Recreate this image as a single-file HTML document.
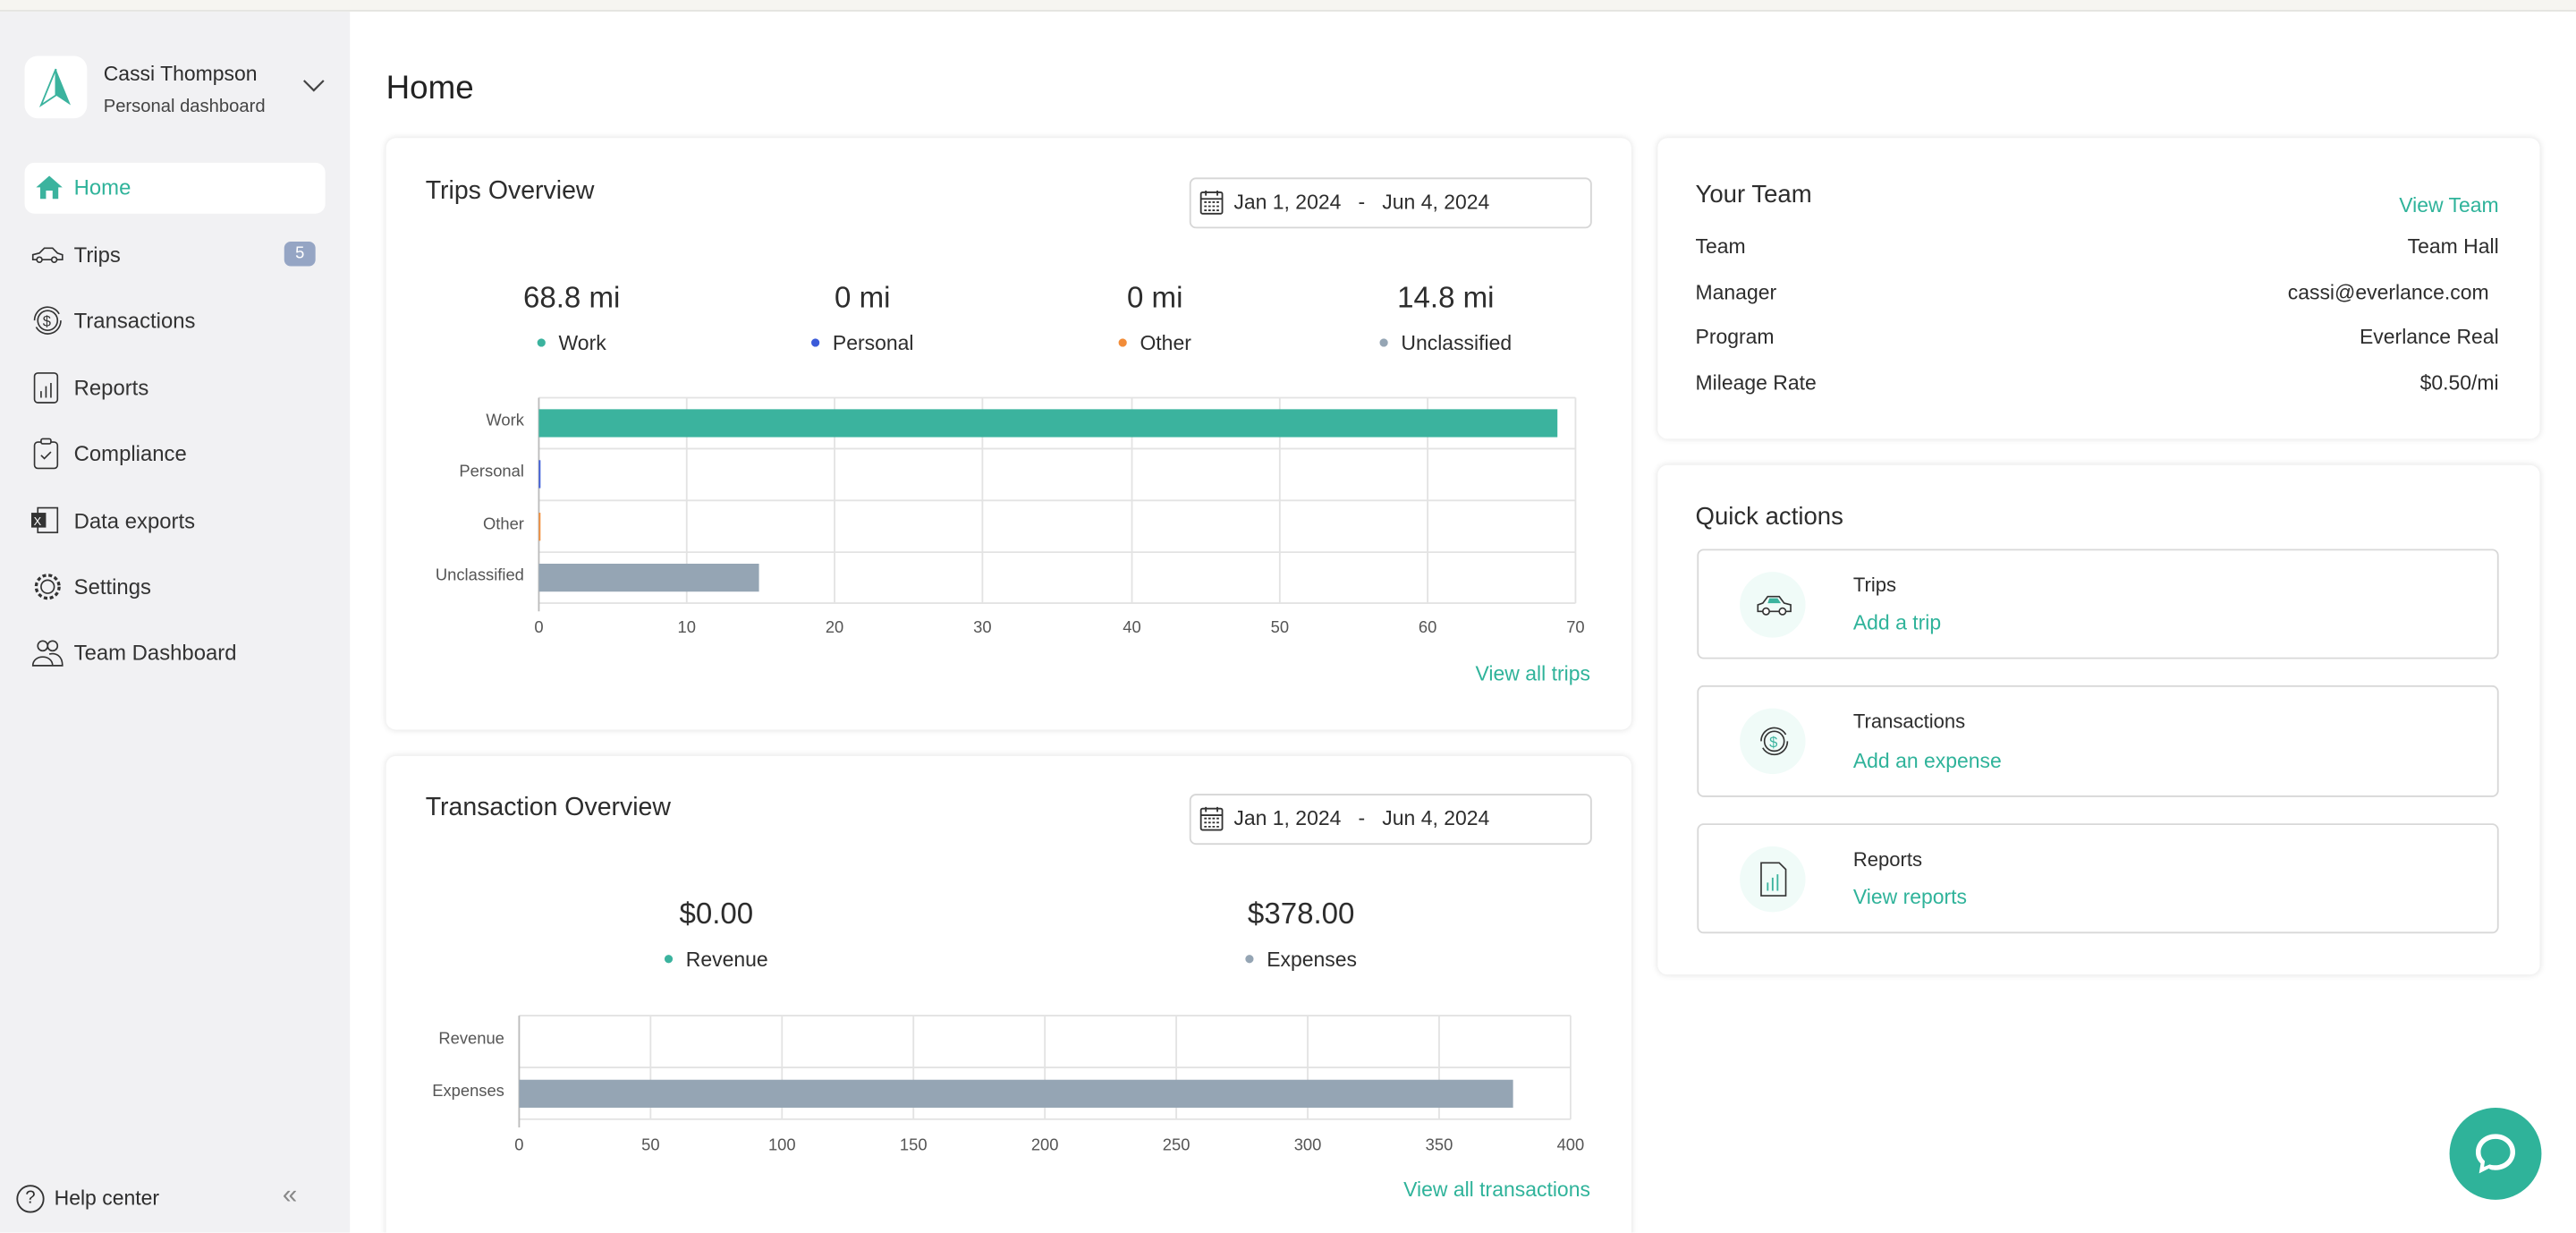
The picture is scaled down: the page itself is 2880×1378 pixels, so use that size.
<!DOCTYPE html>
<html><head><meta charset="utf-8"><style>
*{box-sizing:border-box;margin:0;padding:0}
html,body{width:2880px;height:1378px;overflow:hidden;background:#fff}
#w{position:absolute;left:0;top:0;width:1568px;height:750.3px;transform:scale(1.836735);transform-origin:0 0;font-family:"Liberation Sans",sans-serif;color:#2d2d2d;background:#fff;overflow:hidden}
.a{position:absolute;white-space:nowrap}
.side{position:absolute;left:0;top:7px;width:213px;height:744px;background:#f1f1f3}
.nav{position:absolute;left:45px;font-size:13px;color:#333;transform:translateY(-50%)}
.ic{position:absolute;left:19px;transform:translateY(-50%)}
.card{position:absolute;background:#fff;border-radius:6px;box-shadow:0 0 4px rgba(0,0,0,.12)}
.date{position:absolute;border:1px solid #d6d6d6;border-radius:4px;background:#fff;font-size:12.5px;color:#333}
.teal{color:#2fb39a}
.dot{display:inline-block;width:5px;height:5px;border-radius:50%;margin-right:8px;vertical-align:2px}
.lbl{font-size:10px;color:#555;text-align:right}
.tk{font-size:10px;color:#555;transform:translateX(-50%)}
.qa{position:absolute;left:1033px;width:488px;height:67px;border:1px solid #d8d8d8;border-radius:4px}
.circ{position:absolute;left:25px;top:13px;width:40px;height:40px;border-radius:50%;background:#f0fbf8}
</style></head><body><div id="w">
<div class="a" style="left:0;top:0;width:1568px;height:7px;background:#f6f5f1;border-bottom:1px solid #e4e3df"></div>
<div class="side"></div>
<div class="a" style="left:15px;top:34px;width:38px;height:38px;background:#fff;border-radius:8px"></div>
<svg class="a" style="left:22px;top:40px" width="24" height="26"><polygon points="12,2 3,24 12,18" fill="none" stroke="#3bb39e" stroke-width="1"/><polygon points="12,2 21,24 12,18" fill="#3bb39e"/></svg>
<div class="a" style="left:63px;top:38px;font-size:12.5px">Cassi Thompson</div>
<div class="a" style="left:63px;top:59px;font-size:11px;color:#444">Personal dashboard</div>
<svg class="a" style="left:184px;top:48px" width="14" height="9"><polyline points="1,1 7,7 13,1" fill="none" stroke="#444" stroke-width="1.2"/></svg>
<div class="a" style="left:15px;top:99px;width:183px;height:31px;background:#fff;border-radius:6px"></div>
<svg class="ic" style="top:114px;left:21px" width="18" height="16"><path d="M9 1 L1 8 H3.5 V15 H7 V10 H11 V15 H14.5 V8 H17Z" fill="#3bb39e"/></svg>
<div class="nav teal" style="top:114px">Home</div>
<svg class="ic" style="top:155px" width="20" height="12"><path d="M1 9 V6 L5 5 L8 2 H13 L16 5 L19 6 V9 Z" fill="none" stroke="#333" stroke-width=".9"/><circle cx="5" cy="9" r="1.6" fill="#f1f1f3" stroke="#333" stroke-width=".9"/><circle cx="14" cy="9" r="1.6" fill="#f1f1f3" stroke="#333" stroke-width=".9"/></svg>
<div class="nav" style="top:155px">Trips</div>
<div class="a" style="left:173px;top:147px;width:19px;height:15px;background:#95a5c4;border-radius:4px;color:#fff;font-size:10px;text-align:center;line-height:15px">5</div>
<svg class="ic" style="top:195px" width="20" height="20"><circle cx="10" cy="10" r="6" fill="none" stroke="#333" stroke-width=".9"/><path d="M2 10 A8 8 0 0 1 17 6 M18 10 A8 8 0 0 1 3 14" fill="none" stroke="#333" stroke-width=".9"/><text x="7" y="13.5" font-size="9" fill="#333" font-family="Liberation Sans">$</text></svg>
<div class="nav" style="top:195px">Transactions</div>
<svg class="ic" style="top:236px;left:20px" width="16" height="20"><rect x="1" y="1" width="14" height="18" rx="2" fill="none" stroke="#333" stroke-width=".9"/><path d="M5 16V12M8 16V9M11 16V7" stroke="#333" stroke-width=".9"/></svg>
<div class="nav" style="top:236px">Reports</div>
<svg class="ic" style="top:276px;left:20px" width="16" height="20"><rect x="1" y="3" width="14" height="16" rx="2" fill="none" stroke="#333" stroke-width=".9"/><rect x="5" y="1" width="6" height="3" rx="1" fill="#f1f1f3" stroke="#333" stroke-width=".9"/><polyline points="5,11 7,13 11,9" fill="none" stroke="#333" stroke-width=".9"/></svg>
<div class="nav" style="top:276px">Compliance</div>
<svg class="ic" style="top:317px" width="20" height="20"><rect x="4" y="2" width="12" height="15" fill="none" stroke="#333" stroke-width=".9"/><rect x="0" y="5" width="9" height="9" fill="#333"/><text x="1.5" y="12.5" font-size="7" fill="#fff" font-family="Liberation Sans">X</text></svg>
<div class="nav" style="top:317px">Data exports</div>
<svg class="ic" style="top:357px" width="20" height="20"><circle cx="10" cy="10" r="7" fill="none" stroke="#333" stroke-width="1.8" stroke-dasharray="2.2 1.5"/><circle cx="10" cy="10" r="4" fill="none" stroke="#333" stroke-width=".9"/></svg>
<div class="nav" style="top:357px">Settings</div>
<svg class="ic" style="top:397px" width="20" height="18"><circle cx="7" cy="5" r="3" fill="none" stroke="#333" stroke-width=".9"/><circle cx="13" cy="5" r="3" fill="none" stroke="#333" stroke-width=".9"/><path d="M1 17 C1 10 13 10 13 17Z M11 10 C15 9 19 11 19 17 H13" fill="none" stroke="#333" stroke-width=".9"/></svg>
<div class="nav" style="top:397px">Team Dashboard</div>
<div class="a" style="left:10px;top:721px;width:17px;height:17px;border:1px solid #333;border-radius:50%;font-size:11px;text-align:center;line-height:15px">?</div>
<div class="a" style="left:33px;top:722px;font-size:12.5px">Help center</div>
<div class="a" style="left:172px;top:719px;font-size:16px;color:#888">«</div>

<div class="a" style="left:235px;top:43px;font-size:20px;color:#222">Home</div>

<!-- Trips card -->
<div class="card" style="left:235px;top:84px;width:758px;height:360px"></div>
<div class="a" style="left:259px;top:108px;font-size:15.5px">Trips Overview</div>
<div class="date" style="left:724px;top:108px;width:245px;height:31px"></div>
<svg class="a" style="left:730px;top:115px" width="15" height="16"><rect x="1" y="2" width="13" height="13" rx="1" fill="none" stroke="#333"/><path d="M1 6H14M4 1V4M11 1V4" stroke="#333"/><path d="M3 8h9M3 10.5h9M3 13h9" stroke="#333" stroke-dasharray="1.5 1"/></svg>
<div class="a" style="left:751px;top:116px;font-size:12.5px">Jan 1, 2024 &nbsp;&nbsp;-&nbsp;&nbsp; Jun 4, 2024</div>
<div class="a" style="left:348px;top:171px;transform:translateX(-50%);font-size:18px">68.8 mi</div>
<div class="a" style="left:525px;top:171px;transform:translateX(-50%);font-size:18px">0 mi</div>
<div class="a" style="left:703px;top:171px;transform:translateX(-50%);font-size:18px">0 mi</div>
<div class="a" style="left:880px;top:171px;transform:translateX(-50%);font-size:18px">14.8 mi</div>
<div class="a" style="left:348px;top:202px;transform:translateX(-50%);font-size:12.5px"><span class="dot" style="background:#3bb39e"></span>Work</div>
<div class="a" style="left:525px;top:202px;transform:translateX(-50%);font-size:12.5px"><span class="dot" style="background:#3b5bd9"></span>Personal</div>
<div class="a" style="left:703px;top:202px;transform:translateX(-50%);font-size:12.5px"><span class="dot" style="background:#f28c38"></span>Other</div>
<div class="a" style="left:880px;top:202px;transform:translateX(-50%);font-size:12.5px"><span class="dot" style="background:#95a5b4"></span>Unclassified</div>

<!-- Transactions card -->
<div class="card" style="left:235px;top:460px;width:758px;height:300px"></div>
<div class="a" style="left:259px;top:483px;font-size:15.5px">Transaction Overview</div>
<div class="date" style="left:724px;top:483px;width:245px;height:31px"></div>
<svg class="a" style="left:730px;top:490px" width="15" height="16"><rect x="1" y="2" width="13" height="13" rx="1" fill="none" stroke="#333"/><path d="M1 6H14M4 1V4M11 1V4" stroke="#333"/><path d="M3 8h9M3 10.5h9M3 13h9" stroke="#333" stroke-dasharray="1.5 1"/></svg>
<div class="a" style="left:751px;top:491px;font-size:12.5px">Jan 1, 2024 &nbsp;&nbsp;-&nbsp;&nbsp; Jun 4, 2024</div>
<div class="a" style="left:436px;top:546px;transform:translateX(-50%);font-size:18px">$0.00</div>
<div class="a" style="left:792px;top:546px;transform:translateX(-50%);font-size:18px">$378.00</div>
<div class="a" style="left:436px;top:577px;transform:translateX(-50%);font-size:12.5px"><span class="dot" style="background:#3bb39e"></span>Revenue</div>
<div class="a" style="left:792px;top:577px;transform:translateX(-50%);font-size:12.5px"><span class="dot" style="background:#95a5b4"></span>Expenses</div>

<svg class="a" style="left:0;top:0;z-index:2" width="1000" height="750">
<g stroke="#e3e3e3" stroke-width="1">
<path d="M328 242H959M328 273H959M328 304.5H959M328 336H959M328 367H959"/>
<path d="M418 242V367M508 242V367M598 242V367M689 242V367M779 242V367M869 242V367M959 242V367"/>
<path d="M316 618H956M316 649.5H956M316 681H956"/>
<path d="M396 618V681M476 618V681M556 618V681M636 618V681M716 618V681M796 618V681M876 618V681M956 618V681"/>
</g>
<path d="M328 242V372M316 618V686" stroke="#bbb"/>
<rect x="328" y="249" width="620" height="17" fill="#3bb39e"/>
<rect x="328" y="343" width="134" height="17" fill="#95a5b4"/>
<rect x="328" y="280" width="1" height="17" fill="#3b5bd9"/>
<rect x="328" y="312" width="1" height="17" fill="#f28c38"/>
<rect x="316" y="657" width="605" height="17" fill="#95a5b4"/>
</svg>
<div class="a lbl" style="left:240px;width:79px;top:251px">Work</div>
<div class="a lbl" style="left:240px;width:79px;top:282px">Personal</div>
<div class="a lbl" style="left:240px;width:79px;top:314px">Other</div>
<div class="a lbl" style="left:240px;width:79px;top:345px">Unclassified</div>
<div class="a tk" style="left:328px;top:377px">0</div><div class="a tk" style="left:418px;top:377px">10</div><div class="a tk" style="left:508px;top:377px">20</div><div class="a tk" style="left:598px;top:377px">30</div><div class="a tk" style="left:689px;top:377px">40</div><div class="a tk" style="left:779px;top:377px">50</div><div class="a tk" style="left:869px;top:377px">60</div><div class="a tk" style="left:959px;top:377px">70</div>
<div class="a teal" style="right:600px;top:403px;font-size:12.5px">View all trips</div>
<div class="a lbl" style="left:220px;width:87px;top:627px">Revenue</div>
<div class="a lbl" style="left:220px;width:87px;top:659px">Expenses</div>
<div class="a tk" style="left:316px;top:692px">0</div><div class="a tk" style="left:396px;top:692px">50</div><div class="a tk" style="left:476px;top:692px">100</div><div class="a tk" style="left:556px;top:692px">150</div><div class="a tk" style="left:636px;top:692px">200</div><div class="a tk" style="left:716px;top:692px">250</div><div class="a tk" style="left:796px;top:692px">300</div><div class="a tk" style="left:876px;top:692px">350</div><div class="a tk" style="left:956px;top:692px">400</div>
<div class="a teal" style="right:600px;top:717px;font-size:12.5px">View all transactions</div>

<!-- Team card -->
<div class="card" style="left:1009px;top:84px;width:537px;height:183px"></div>
<div class="a" style="left:1032px;top:110px;font-size:15px">Your Team</div>
<div class="a teal" style="right:47px;top:118px;font-size:12.5px">View Team</div>
<div class="a" style="left:1032px;top:143px;font-size:12.5px">Team</div><div class="a" style="right:47px;top:143px;font-size:12.5px">Team Hall</div>
<div class="a" style="left:1032px;top:171px;font-size:12.5px">Manager</div><div class="a" style="right:53px;top:171px;font-size:12.5px">cassi@everlance.com</div>
<div class="a" style="left:1032px;top:198px;font-size:12.5px">Program</div><div class="a" style="right:47px;top:198px;font-size:12.5px">Everlance Real</div>
<div class="a" style="left:1032px;top:226px;font-size:12.5px">Mileage Rate</div><div class="a" style="right:47px;top:226px;font-size:12.5px">$0.50/mi</div>

<!-- Quick actions -->
<div class="card" style="left:1009px;top:283px;width:537px;height:310px"></div>
<div class="a" style="left:1032px;top:306px;font-size:15px">Quick actions</div>
<div class="qa" style="top:334px"><div class="circ"></div>
<svg class="a" style="left:35px;top:25px" width="22" height="16"><path d="M1 12V8L4 7L7 3H14L17 7L21 8V12Z" fill="none" stroke="#333" stroke-width=".9"/><path d="M8 4H13L15 7H7Z" fill="#3bb39e"/><circle cx="6" cy="12" r="2" fill="#fff" stroke="#333" stroke-width=".9"/><circle cx="16" cy="12" r="2" fill="#fff" stroke="#333" stroke-width=".9"/></svg>
<div class="a" style="left:94px;top:14px;font-size:12px">Trips</div><div class="a teal" style="left:94px;top:37px;font-size:12.5px">Add a trip</div></div>
<div class="qa" style="top:417px;height:68px"><div class="circ"></div>
<svg class="a" style="left:35px;top:22px" width="22" height="22"><circle cx="11" cy="11" r="6" fill="none" stroke="#333" stroke-width=".9"/><path d="M3 11A8 8 0 0 1 18 7M19 11A8 8 0 0 1 4 15" fill="none" stroke="#333" stroke-width=".9"/><text x="8" y="14.5" font-size="9" fill="#3bb39e" font-family="Liberation Sans">$</text></svg>
<div class="a" style="left:94px;top:14px;font-size:12px">Transactions</div><div class="a teal" style="left:94px;top:38px;font-size:12.5px">Add an expense</div></div>
<div class="qa" style="top:501px"><div class="circ"></div>
<svg class="a" style="left:37px;top:22px" width="18" height="22"><path d="M1 1H12L16 5V21H1Z" fill="none" stroke="#333" stroke-width=".9"/><path d="M5 18V13M8 18V10M11 18V8" stroke="#3bb39e" stroke-width="1"/></svg>
<div class="a" style="left:94px;top:14px;font-size:12px">Reports</div><div class="a teal" style="left:94px;top:37px;font-size:12.5px">View reports</div></div>

<div class="a" style="left:1491px;top:674px;width:56px;height:56px;border-radius:50%;background:#2fb39a"></div>
<svg class="a" style="left:1503px;top:686px" width="32" height="32"><path d="M16 4C9 4 4 9 4 15C4 18 5 20 7 22L6 28L12 25C13 26 15 26 16 26C23 26 28 21 28 15C28 9 23 4 16 4Z" fill="#fff"/><path d="M16 7C11 7 7 10.5 7 15C7 17.5 8 19 9.5 20.5L9 24L12.5 22.5C13.5 23 15 23 16 23C21 23 25 19.5 25 15C25 10.5 21 7 16 7Z" fill="#2fb39a"/></svg>
</div></body></html>
